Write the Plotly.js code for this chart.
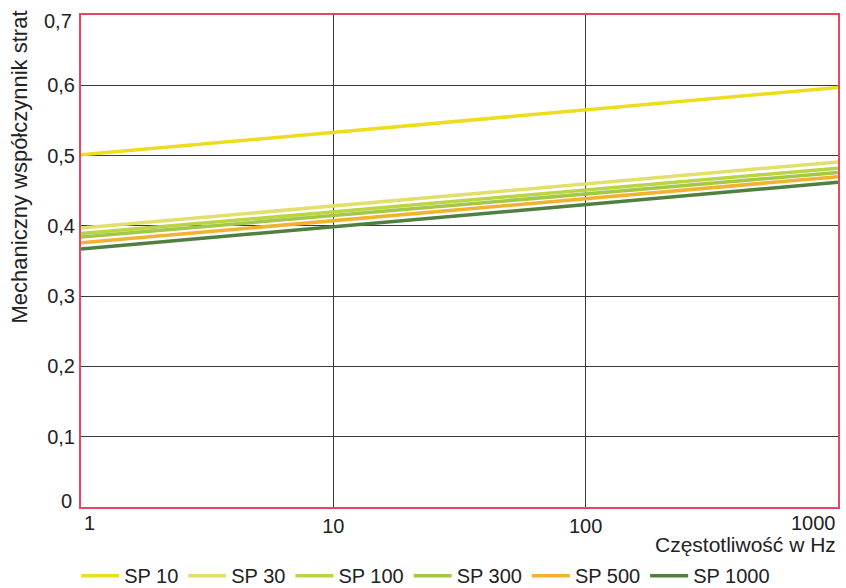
<!DOCTYPE html>
<html>
<head>
<meta charset="utf-8">
<script src="https://cdn.plot.ly/plotly-3.0.1.min.js"></script>
<style>html,body{margin:0;padding:0;background:#fff;}#chart{width:846px;height:588px;}</style>
</head>
<body>
<div id="chart"></div>
<script>
const freq = [1, 1000];
const seriesNames = ["SP 10", "SP 30", "SP 100", "SP 300", "SP 500", "SP 1000"];
const sp10 = [0.501, 0.597];
const sp30 = [0.397, 0.491];
const sp100 = [0.389, 0.482];
const sp300 = [0.384, 0.476];
const sp500 = [0.376, 0.470];
const sp1000 = [0.367, 0.462];
const seriesColors = ["#eedd1e", "#e2e06c", "#bcd444", "#a2c846", "#f2b22e", "#4f8040"];
const yTickVals = [0, 0.1, 0.2, 0.3, 0.4, 0.5, 0.6, 0.7];
const yTickText = ["0", "0,1", "0,2", "0,3", "0,4", "0,5", "0,6", "0,7"];
const xTickVals = [1, 10, 100, 1000];
const xTickText = ["1", "10", "100", "1000"];

const allSeries = [sp10, sp30, sp100, sp300, sp500, sp1000];
const traces = allSeries.map((ys, i) => ({
  x: freq, y: ys, type: "scatter", mode: "lines", name: seriesNames[i],
  line: {color: seriesColors[i], width: 3.5}
}));

const fam = "Liberation Sans, Arial, sans-serif";
const font = {family: fam, size: 20, color: "#222"};
const titleFont = {family: fam, size: 21, color: "#222"};
const yTitleFont = {family: fam, size: 22, color: "#222"};

// edge tick labels are drawn as annotations, nudged inward like the reference
const lastY = yTickVals.length - 1, lastX = xTickVals.length - 1;
const yTextAxis = yTickText.map((t, i) => (i === 0 || i === lastY) ? "" : t);
const xTextAxis = xTickText.map((t, i) => (i === 0 || i === lastX) ? "" : t);

const annotations = [
  {text: "Częstotliwość w Hz", xref: "paper", yref: "paper", x: 1, y: -0.048,
   xanchor: "right", yanchor: "top", showarrow: false, font: titleFont},
  {text: "Mechaniczny współczynnik strat", xref: "paper", yref: "paper", x: 0, y: 1,
   xanchor: "center", yanchor: "top", xshift: -62, yshift: 6, textangle: -90,
   showarrow: false, font: yTitleFont},
  {text: xTickText[0], xref: "x", yref: "paper", x: Math.log10(xTickVals[0]), y: 0,
   xanchor: "left", yanchor: "top", yshift: -3, xshift: 1, showarrow: false, font: font},
  {text: xTickText[lastX], xref: "x", yref: "paper", x: Math.log10(xTickVals[lastX]), y: 0,
   xanchor: "right", yanchor: "top", yshift: -3, showarrow: false, font: font},
  {text: yTickText[0], xref: "paper", yref: "y", x: 0, y: yTickVals[0],
   xanchor: "right", yanchor: "middle", xshift: -7, yshift: 6, showarrow: false, font: font},
  {text: yTickText[lastY], xref: "paper", yref: "y", x: 0, y: yTickVals[lastY],
   xanchor: "right", yanchor: "middle", xshift: -7, yshift: -6, showarrow: false, font: font}
];

const layout = {
  width: 846, height: 588,
  margin: {l: 81, r: 8, t: 15, b: 81},
  paper_bgcolor: "#fff", plot_bgcolor: "#fff",
  font: font,
  showlegend: true,
  legend: {orientation: "h", xref: "container", yref: "container",
           x: 0.09, xanchor: "left", y: 0.021, yanchor: "middle",
           font: font, itemwidth: 38, traceorder: "normal", tracegroupgap: 0},
  xaxis: {type: "log", range: [0, 3], tickvals: xTickVals, ticktext: xTextAxis,
          showgrid: true, gridcolor: "#3a3a3a", gridwidth: 1, automargin: false,
          showline: true, linecolor: "#e84560", linewidth: 2, mirror: true,
          ticks: "", zeroline: false, tickfont: font},
  yaxis: {range: [0, 0.7], tickvals: yTickVals, ticktext: yTextAxis,
          showgrid: true, gridcolor: "#3a3a3a", gridwidth: 1, automargin: false,
          showline: true, linecolor: "#e84560", linewidth: 2, mirror: true,
          ticks: "", zeroline: false, tickfont: font},
  annotations: annotations
};
Plotly.newPlot("chart", traces, layout, {displayModeBar: false, staticPlot: true});
</script>
</body>
</html>
